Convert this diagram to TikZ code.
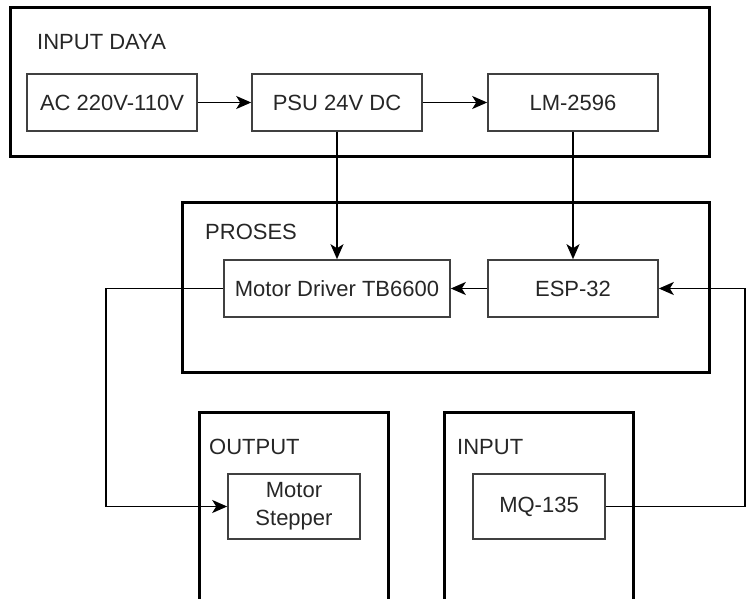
\documentclass[tikz,border=0pt]{standalone}
\usepackage{fontspec}
\setmainfont{Liberation Sans}
\usetikzlibrary{arrows.meta}

\begin{document}
\begin{tikzpicture}[x=1pt,y=-1pt,>={Stealth[length=15pt,width=13pt,inset=4pt]},
    blok/.style={draw=black!75,line width=1.6pt,minimum height=57pt,
      inner sep=0pt,text=black!85,font=\fontsize{22}{26}\selectfont},
    grup/.style={draw,line width=3pt},
    judul/.style={anchor=west,inner sep=0pt,text=black!85,
      font=\fontsize{22}{26}\selectfont},
    panah/.style={->,line width=1.8pt}]
  % picture frame, 750 x 599
  \clip(0,0) rectangle (750,599);

  % groups
  \draw[grup](10,8) rectangle (709,157);     % input daya
  \draw[grup](182,202) rectangle (709,372);  % proses
  \draw[grup](199,412) rectangle (388,615);  % output
  \draw[grup](444,412) rectangle (633,615);  % input

  % group titles
  \node[judul] (tDaya)   at (37,42)  {INPUT DAYA};
  \node[judul] (tProses) at (205,232) {PROSES};
  \node[judul] (tOutput) at (209,447) {OUTPUT};
  \node[judul] (tInput)  at (457,447) {INPUT};

  % blocks
  \node[blok,minimum width=170pt] (ac)  at (112,102.5) {AC 220V-110V};
  \node[blok,minimum width=170pt] (psu) at (337,102.5) {PSU 24V DC};
  \node[blok,minimum width=170pt] (lm)  at (573,102.5) {LM-2596};
  \node[blok,minimum width=226pt] (drv) at (337,288.5) {Motor Driver TB6600};
  \node[blok,minimum width=170pt] (esp) at (573,288.5) {ESP-32};
  \node[blok,minimum width=132pt,minimum height=65pt,align=center]
    (stp) at (294,506.5) {Motor\\[2pt]Stepper};
  \node[blok,minimum width=132pt,minimum height=65pt] (mq) at (539,506.5) {MQ-135};

  % bends
  \coordinate (belokKiri)  at (106,288.5);
  \coordinate (belokKanan) at (745,506.5);

  % connectors
  \draw[panah](ac)--(psu);
  \draw[panah](psu)--(lm);
  \draw[panah](psu.south)--(drv.north);
  \draw[panah](lm.south)--(esp.north);
  \draw[panah](esp)--(drv);
  \draw[panah](drv.west)--(belokKiri)|-(stp.west);
  \draw[panah](mq.east)--(belokKanan)|-(esp.east);
\end{tikzpicture}
\end{document}
